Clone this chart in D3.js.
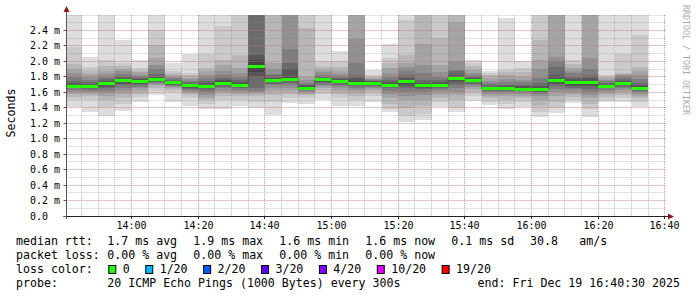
<!DOCTYPE html>
<html>
<head>
<meta charset="utf-8">
<script src="https://cdn.jsdelivr.net/npm/d3@7"></script>
<style>
  body { margin: 0; background: #fff; }
  svg { display: block; font-family: "DejaVu Sans Mono", monospace; }
</style>
</head>
<body>
<svg width="697" height="297"></svg>
<script>
// 5 minute bins (start time of each bin)
const binStarts = ["13:40", "13:45", "13:50", "13:55", "14:00", "14:05", "14:10", "14:15", "14:20", "14:25",
    "14:30", "14:35", "14:40", "14:45", "14:50", "14:55", "15:00", "15:05", "15:10", "15:15",
    "15:20", "15:25", "15:30", "15:35", "15:40", "15:45", "15:50", "15:55", "16:00", "16:05",
    "16:10", "16:15", "16:20", "16:25", "16:30"];

// median rtt per bin (ms)
const medians = [1.68, 1.67, 1.71, 1.75, 1.74, 1.76, 1.73, 1.69, 1.68, 1.72,
    1.69, 1.94, 1.75, 1.77, 1.65, 1.76, 1.74, 1.72, 1.72, 1.69,
    1.74, 1.69, 1.69, 1.78, 1.75, 1.65, 1.65, 1.64, 1.63, 1.75,
    1.73, 1.73, 1.68, 1.72, 1.65];

// 20 sorted pings per bin (ms)
const pings = [
    [1.41, 1.50, 1.54, 1.58, 1.61, 1.63, 1.65, 1.66, 1.67, 1.68, 1.68, 1.70, 1.72, 1.75, 1.80, 1.85, 1.90, 1.97, 2.19, 2.70],
    [1.35, 1.50, 1.55, 1.58, 1.60, 1.62, 1.64, 1.65, 1.66, 1.67, 1.67, 1.69, 1.71, 1.73, 1.76, 1.80, 1.84, 1.88, 1.93, 2.06],
    [1.30, 1.41, 1.50, 1.55, 1.59, 1.62, 1.65, 1.67, 1.69, 1.70, 1.71, 1.73, 1.75, 1.77, 1.80, 1.84, 1.88, 1.94, 2.02, 2.75],
    [1.36, 1.45, 1.52, 1.58, 1.62, 1.66, 1.69, 1.71, 1.73, 1.74, 1.75, 1.77, 1.79, 1.81, 1.84, 1.87, 1.90, 1.94, 1.98, 2.28],
    [1.48, 1.54, 1.58, 1.62, 1.65, 1.67, 1.69, 1.71, 1.72, 1.73, 1.74, 1.76, 1.77, 1.79, 1.81, 1.83, 1.86, 1.88, 1.91, 2.02],
    [1.57, 1.62, 1.66, 1.69, 1.71, 1.72, 1.73, 1.74, 1.75, 1.76, 1.76, 1.78, 1.80, 1.84, 1.90, 1.95, 2.05, 2.21, 2.41, 2.80],
    [1.48, 1.60, 1.63, 1.65, 1.67, 1.68, 1.69, 1.70, 1.71, 1.72, 1.73, 1.74, 1.75, 1.76, 1.78, 1.80, 1.82, 1.85, 1.87, 1.98],
    [1.42, 1.53, 1.56, 1.59, 1.61, 1.63, 1.64, 1.66, 1.67, 1.68, 1.69, 1.70, 1.71, 1.73, 1.75, 1.77, 1.79, 1.82, 1.85, 2.09],
    [1.38, 1.45, 1.50, 1.53, 1.57, 1.60, 1.63, 1.65, 1.66, 1.67, 1.68, 1.70, 1.72, 1.74, 1.78, 1.82, 1.87, 1.91, 2.10, 2.70],
    [1.38, 1.50, 1.55, 1.59, 1.62, 1.65, 1.67, 1.69, 1.70, 1.71, 1.72, 1.74, 1.76, 1.79, 1.83, 1.87, 1.95, 2.02, 2.46, 2.80],
    [1.42, 1.50, 1.55, 1.58, 1.61, 1.63, 1.65, 1.67, 1.68, 1.69, 1.69, 1.71, 1.73, 1.76, 1.80, 1.85, 1.92, 2.08, 2.65, 2.75],
    [1.40, 1.48, 1.55, 1.58, 1.60, 1.62, 1.66, 1.80, 1.86, 1.93, 1.95, 2.02, 2.08, 2.65, 2.70, 2.75, 2.80, 2.85, 2.90, 2.95],
    [1.31, 1.48, 1.56, 1.62, 1.66, 1.69, 1.71, 1.73, 1.74, 1.75, 1.75, 1.77, 1.79, 1.82, 1.84, 1.90, 1.98, 2.65, 2.75, 2.85],
    [1.46, 1.52, 1.58, 1.62, 1.66, 1.69, 1.72, 1.74, 1.76, 1.77, 1.77, 1.80, 1.90, 1.98, 2.16, 2.65, 2.70, 2.75, 2.80, 2.90],
    [1.45, 1.52, 1.56, 1.58, 1.60, 1.62, 1.63, 1.64, 1.65, 1.65, 1.66, 1.67, 1.69, 1.70, 1.72, 1.76, 1.80, 2.43, 2.70, 2.80],
    [1.50, 1.58, 1.62, 1.65, 1.68, 1.70, 1.72, 1.73, 1.74, 1.75, 1.76, 1.77, 1.78, 1.80, 1.83, 1.86, 1.89, 1.93, 2.00, 2.75],
    [1.42, 1.52, 1.58, 1.62, 1.66, 1.68, 1.70, 1.72, 1.73, 1.74, 1.74, 1.75, 1.77, 1.79, 1.81, 1.84, 1.88, 1.93, 2.00, 2.13],
    [1.42, 1.50, 1.55, 1.60, 1.63, 1.66, 1.68, 1.70, 1.71, 1.72, 1.72, 1.74, 1.78, 1.83, 1.98, 2.29, 2.65, 2.70, 2.80, 2.90],
    [1.48, 1.55, 1.60, 1.63, 1.65, 1.67, 1.68, 1.69, 1.70, 1.71, 1.72, 1.73, 1.74, 1.75, 1.76, 1.77, 1.78, 1.80, 1.82, 1.89],
    [1.35, 1.38, 1.45, 1.52, 1.58, 1.62, 1.65, 1.67, 1.68, 1.69, 1.69, 1.71, 1.73, 1.76, 1.80, 1.85, 1.92, 1.98, 2.05, 2.23],
    [1.22, 1.30, 1.40, 1.50, 1.55, 1.60, 1.65, 1.68, 1.71, 1.73, 1.74, 1.76, 1.79, 1.83, 1.88, 1.93, 1.98, 2.08, 2.54, 2.75],
    [1.24, 1.32, 1.42, 1.50, 1.56, 1.60, 1.64, 1.66, 1.67, 1.68, 1.69, 1.70, 1.72, 1.76, 1.85, 1.95, 2.23, 2.65, 2.75, 2.85],
    [1.41, 1.47, 1.52, 1.56, 1.60, 1.63, 1.65, 1.67, 1.68, 1.69, 1.69, 1.71, 1.73, 1.76, 1.80, 1.86, 1.95, 2.30, 2.65, 2.75],
    [1.34, 1.40, 1.50, 1.56, 1.60, 1.65, 1.70, 1.73, 1.76, 1.77, 1.78, 1.80, 1.83, 1.87, 1.89, 2.00, 2.51, 2.65, 2.75, 2.85],
    [1.49, 1.55, 1.60, 1.64, 1.67, 1.69, 1.71, 1.73, 1.74, 1.75, 1.76, 1.77, 1.78, 1.80, 1.82, 1.85, 1.89, 1.94, 1.98, 2.02],
    [1.43, 1.48, 1.52, 1.55, 1.58, 1.60, 1.62, 1.63, 1.64, 1.65, 1.65, 1.66, 1.67, 1.69, 1.72, 1.75, 1.78, 1.82, 1.85, 1.88],
    [1.39, 1.45, 1.50, 1.55, 1.58, 1.60, 1.62, 1.63, 1.64, 1.65, 1.65, 1.66, 1.68, 1.70, 1.73, 1.77, 1.82, 1.86, 1.89, 2.56],
    [1.41, 1.47, 1.52, 1.55, 1.58, 1.60, 1.62, 1.63, 1.64, 1.65, 1.65, 1.66, 1.68, 1.70, 1.73, 1.76, 1.80, 1.86, 1.92, 2.00],
    [1.28, 1.34, 1.42, 1.50, 1.55, 1.58, 1.60, 1.61, 1.62, 1.63, 1.63, 1.65, 1.68, 1.72, 1.78, 1.90, 2.02, 2.28, 2.70, 2.80],
    [1.33, 1.40, 1.47, 1.55, 1.60, 1.64, 1.68, 1.71, 1.73, 1.74, 1.75, 1.77, 1.82, 1.93, 2.00, 2.06, 2.70, 2.75, 2.80, 2.90],
    [1.46, 1.50, 1.54, 1.58, 1.61, 1.64, 1.66, 1.68, 1.70, 1.72, 1.73, 1.75, 1.77, 1.80, 1.85, 1.88, 1.92, 1.96, 2.02, 2.80],
    [1.28, 1.38, 1.45, 1.52, 1.56, 1.60, 1.64, 1.68, 1.70, 1.72, 1.73, 1.75, 1.78, 1.83, 1.90, 2.04, 2.65, 2.70, 2.75, 2.85],
    [1.47, 1.50, 1.54, 1.58, 1.61, 1.63, 1.65, 1.66, 1.67, 1.68, 1.69, 1.70, 1.71, 1.72, 1.74, 1.76, 1.78, 1.80, 1.82, 2.70],
    [1.47, 1.52, 1.56, 1.60, 1.63, 1.65, 1.67, 1.69, 1.70, 1.71, 1.72, 1.73, 1.75, 1.77, 1.80, 1.82, 1.84, 1.85, 2.10, 2.75],
    [1.41, 1.47, 1.52, 1.55, 1.58, 1.60, 1.62, 1.63, 1.64, 1.65, 1.65, 1.67, 1.69, 1.72, 1.77, 1.82, 1.87, 1.93, 2.34, 2.80]
];

const yTicks = [0, 0.2, 0.4, 0.6, 0.8, 1.0, 1.2, 1.4, 1.6, 1.8, 2.0, 2.2, 2.4];
const xTicks = ["14:00", "14:20", "14:40", "15:00", "15:20", "15:40", "16:00", "16:20", "16:40"];

const rttStats = ["1.7 ms avg", "1.9 ms max", "1.6 ms min", "1.6 ms now", "0.1 ms sd"];
const lossStats = ["0.00 % avg", "0.00 % max", "0.00 % min", "0.00 % now"];
const lossLabels = ["0", "1/20", "2/20", "3/20", "4/20", "10/20", "19/20"];
const lossColors = ["#26ff00", "#00b8ff", "#0059ff", "#5e00ff", "#7e00ff", "#dd00ff", "#ff0000"];

const svg = d3.select("svg");
const parseHM = d3.timeParse("%H:%M");
const parseHMS = d3.timeParse("%H:%M:%S");
const tStart = parseHMS("13:40:30");
const tEnd = parseHMS("16:40:30");

const plotLeft = 66.5, plotRight = 666.5, plotTop = 15, plotBottom = 216;

const x = d3.scaleTime().domain([tStart, tEnd]).range([plotLeft, plotRight]);
const y = d3.scaleLinear().domain([0, 2.6]).range([plotBottom, plotTop]);

svg.append("rect").attr("width", 697).attr("height", 297).attr("fill", "#fff");

svg.append("defs").append("clipPath").attr("id", "plot")
    .append("rect")
    .attr("x", plotLeft).attr("y", plotTop)
    .attr("width", plotRight - plotLeft).attr("height", plotBottom - plotTop);

const bins = binStarts.map((s, i) => {
    const t0 = parseHM(s);
    return {
        x0: x(t0 < tStart ? tStart : t0),
        x1: x(d3.timeMinute.offset(t0, 5)),
        pings: pings[i],
        median: medians[i]
    };
});

// smoke: outer band lightest, inner bands darker (smokeping style)
const smokeShade = k => {
    const c = Math.floor(190 / 10 * (10 - k)) + 50;
    return d3.rgb(c, c, c).formatHex();
};

const plot = svg.append("g").attr("clip-path", "url(#plot)");

bins.forEach(b => {
    d3.range(1, 11).forEach(k => {
        plot.append("rect")
            .attr("x", b.x0)
            .attr("width", b.x1 - b.x0)
            .attr("y", y(b.pings[20 - k]))
            .attr("height", y(b.pings[k - 1]) - y(b.pings[20 - k]))
            .attr("fill", smokeShade(k))
            .attr("shape-rendering", "crispEdges");
    });
});

// grid
const grid = svg.append("g").attr("stroke-width", 1).attr("stroke-dasharray", "1,1");
const px = v => Math.floor(v) + 0.5;

d3.timeMinute.every(5).range(d3.timeMinute.offset(tStart, 1), tEnd).forEach(t => {
    grid.append("line")
        .attr("x1", px(x(t))).attr("x2", px(x(t)))
        .attr("y1", plotTop).attr("y2", plotBottom)
        .attr("stroke", "rgba(128,128,128,0.45)");
});
y.ticks(26).filter(v => v > 0).forEach(v => {
    grid.append("line")
        .attr("x1", plotLeft).attr("x2", plotRight)
        .attr("y1", px(y(v))).attr("y2", px(y(v)))
        .attr("stroke", "rgba(128,128,128,0.45)");
});
xTicks.forEach(s => {
    const xx = px(x(parseHM(s)));
    grid.append("line")
        .attr("x1", xx).attr("x2", xx)
        .attr("y1", plotTop).attr("y2", plotBottom)
        .attr("stroke", "rgba(225,110,110,0.5)");
});
yTicks.filter(v => v > 0).forEach(v => {
    grid.append("line")
        .attr("x1", plotLeft).attr("x2", plotRight)
        .attr("y1", px(y(v))).attr("y2", px(y(v)))
        .attr("stroke", "rgba(225,110,110,0.5)");
});

// median line: dotted step connector + loss coloured segments
svg.append("path")
    .datum(bins.concat([{ x0: bins[bins.length - 1].x1, median: medians[medians.length - 1] }]))
    .attr("fill", "none")
    .attr("stroke", "#202020")
    .attr("stroke-width", 1)
    .attr("stroke-dasharray", "1,1")
    .attr("d", d3.line().x(d => d.x0).y(d => px(y(d.median))).curve(d3.curveStepAfter));

svg.append("g")
    .selectAll("line")
    .data(bins)
    .enter()
    .append("line")
    .attr("x1", d => d.x0)
    .attr("x2", d => d.x1)
    .attr("y1", d => px(y(d.median)))
    .attr("y2", d => px(y(d.median)))
    .attr("stroke", lossColors[0]) // no loss in this window
    .attr("stroke-width", 3);

// axes
svg.append("line")
    .attr("x1", plotLeft - 3).attr("x2", 669)
    .attr("y1", plotBottom + 0.5).attr("y2", plotBottom + 0.5)
    .attr("stroke", "#222");
svg.append("line")
    .attr("x1", plotLeft).attr("x2", plotLeft)
    .attr("y1", plotBottom + 3).attr("y2", 9)
    .attr("stroke", "#555");

svg.append("path")
    .attr("d", `M${plotLeft - 3},12L${plotLeft},6L${plotLeft + 3},12Z`)
    .attr("fill", "#8b1a1a");
svg.append("path")
    .attr("d", `M668,${plotBottom - 2.5}L674,${plotBottom + 0.5}L668,${plotBottom + 3.5}Z`)
    .attr("fill", "#8b1a1a");

yTicks.forEach(v => {
    svg.append("line")
        .attr("x1", plotLeft - 3).attr("x2", plotLeft)
        .attr("y1", px(y(v))).attr("y2", px(y(v)))
        .attr("stroke", "#555");
    svg.append("text")
        .attr("x", 30)
        .attr("y", y(v) + 3.5)
        .attr("font-size", 10)
        .attr("fill", "#000")
        .text(v === 0 ? "0.0" : v.toFixed(1) + " m");
});

xTicks.forEach(s => {
    const xx = px(x(parseHM(s)));
    svg.append("line")
        .attr("x1", xx).attr("x2", xx)
        .attr("y1", plotBottom).attr("y2", plotBottom + 3)
        .attr("stroke", "#222");
    svg.append("text")
        .attr("x", xx)
        .attr("y", 229)
        .attr("text-anchor", "middle")
        .attr("font-size", 10)
        .attr("fill", "#000")
        .text(s);
});

svg.append("text")
    .attr("transform", "translate(15,113) rotate(-90)")
    .attr("text-anchor", "middle")
    .attr("font-size", 11.6)
    .text("Seconds");

svg.append("text")
    .attr("transform", "translate(683,5) rotate(90)")
    .attr("font-size", 8.3)
    .attr("fill", "#aaa")
    .text("RRDTOOL / TOBI OETIKER");

// legend
const legend = svg.append("g").attr("font-size", 11.6).attr("fill", "#000");
const col0 = 16, col1 = 107.3, pitch = 86;

legend.append("text").attr("x", col0).attr("y", 245).text("median rtt:");
rttStats.forEach((s, i) => {
    legend.append("text").attr("x", col1 + i * pitch).attr("y", 245).text(s);
});
legend.append("text").attr("x", 530).attr("y", 245).text("30.8");
legend.append("text").attr("x", 579.3).attr("y", 245).text("am/s");

legend.append("text").attr("x", col0).attr("y", 259).text("packet loss:");
lossStats.forEach((s, i) => {
    legend.append("text").attr("x", col1 + i * pitch).attr("y", 259).text(s);
});

legend.append("text").attr("x", col0).attr("y", 273).text("loss color:");
let lx = 108.3;
lossLabels.forEach((s, i) => {
    legend.append("rect")
        .attr("x", lx + 0.5).attr("y", 265.5)
        .attr("width", 7).attr("height", 8)
        .attr("fill", lossColors[i])
        .attr("stroke", "#000");
    legend.append("text").attr("x", lx + 14.4).attr("y", 273).text(s);
    lx += 14.4 + 6.97 * s.length + 15.6;
});

legend.append("text").attr("x", col0).attr("y", 287).text("probe:");
legend.append("text").attr("x", col1).attr("y", 287).text("20 ICMP Echo Pings (1000 Bytes) every 300s");
legend.append("text").attr("x", 680).attr("y", 287).attr("text-anchor", "end").text("end: Fri Dec 19 16:40:30 2025");
</script>
</body>
</html>
